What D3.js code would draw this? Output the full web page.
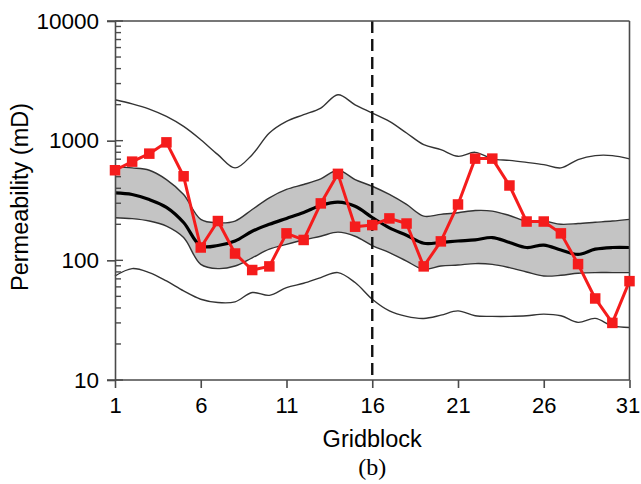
<!DOCTYPE html>
<html>
<head>
<meta charset="utf-8">
<script src="https://cdn.jsdelivr.net/npm/d3@7"></script>
<style>
  html, body { margin: 0; padding: 0; background: #fff; }
  svg { display: block; }
  .tick text { font-family: "Liberation Sans", Arial, Helvetica, sans-serif; }
</style>
</head>
<body>
<svg id="chart" width="641" height="484"></svg>
<script>
// Gridblock index along the section
const gridblocks = d3.range(1, 32);

// Observed permeability per gridblock (mD)
const observed = [566, 668, 779, 968, 504, 128, 213, 114, 83, 89, 168, 148, 299, 528, 191,
                  197, 224, 203, 89, 144, 293, 708, 708, 422, 211, 211, 168, 93, 48, 30, 67];

// Ensemble mean (mD)
const meanPerm = [366, 355, 322, 277, 207, 132, 133, 145, 175, 200, 224, 251, 287, 306, 283,
                  228, 187, 162, 139, 141, 145, 148, 155, 141, 128, 134, 122, 112, 124, 128, 128];

// Shaded band: upper and lower bounds (mD)
const bandUpper = [604, 592, 566, 473, 355, 220, 206, 213, 266, 333, 391, 430, 480, 566, 473,
                   416, 355, 293, 234, 242, 250, 261, 258, 237, 213, 213, 200, 203, 208, 213, 220];
const bandLower = [227, 223, 213, 193, 155, 92.6, 85.3, 89.6, 105, 124, 136, 148, 159, 172, 159,
                   133, 116, 98.6, 84.1, 89.6, 91.4, 93.9, 92.6, 86.9, 79.9, 74, 75, 78, 79, 79, 79];

// Outer envelope: maximum and minimum (mD)
const envMax = [2198, 2032, 1837, 1594, 1315, 1019, 764, 592, 764, 1159, 1449, 1648, 1873, 2417, 1995,
                1702, 1449, 1159, 926, 841, 740, 799, 704, 685, 659, 631, 592, 695, 750, 750, 704];
const envMin = [74, 85.3, 79, 67.2, 55.5, 47.3, 44.4, 45, 53.8, 51, 59.2, 64.3, 71.8, 79, 65.2,
                47.3, 37.8, 34, 32.7, 34.8, 37.8, 34.4, 34, 34, 34.4, 35.5, 34.4, 30.3, 32.7, 28.3, 27.5];

// Axis ticks and labels
const xTicks = [1, 6, 11, 16, 21, 26, 31];
const yTicks = [10, 100, 1000, 10000];
const dividerAt = 16;
const xLabel = "Gridblock";
const yLabel = "Permeability (mD)";
const panelLabel = "(b)";

const svg = d3.select("#chart");
const plotLeft = 115, plotRight = 629.5, plotTop = 21, plotBottom = 380;

const x = d3.scaleLinear().domain([1, 31]).range([plotLeft, plotRight]);
const y = d3.scaleLog().domain([10, 10000]).range([plotBottom, plotTop]);

const rows = gridblocks.map((g, i) => ({
  g, obs: observed[i], mean: meanPerm[i], hi: bandUpper[i], lo: bandLower[i],
  max: envMax[i], min: envMin[i]
}));

const curve = d3.curveCatmullRom.alpha(0.5);
const axisColor = "#4a4a4a";
const sans = "Liberation Sans, Arial, Helvetica, sans-serif";

// shaded band
svg.append("path")
  .datum(rows)
  .attr("fill", "#c4c4c4")
  .attr("d", d3.area().curve(curve).x(d => x(d.g)).y0(d => y(d.lo)).y1(d => y(d.hi)));

// thin lines: band edges and outer envelope
const seriesLine = key => d3.line().curve(curve).x(d => x(d.g)).y(d => y(d[key]));
["hi", "lo", "max", "min"].forEach(k => {
  svg.append("path")
    .datum(rows)
    .attr("fill", "none")
    .attr("stroke", "#333")
    .attr("stroke-width", 1.4)
    .attr("d", seriesLine(k));
});

// ensemble mean
svg.append("path")
  .datum(rows)
  .attr("fill", "none")
  .attr("stroke", "#000")
  .attr("stroke-width", 3.2)
  .attr("d", seriesLine("mean"));

// vertical dashed divider
svg.append("line")
  .attr("x1", x(dividerAt)).attr("x2", x(dividerAt))
  .attr("y1", y(10000)).attr("y2", y(10))
  .attr("stroke", "#111")
  .attr("stroke-width", 2.4)
  .attr("stroke-dasharray", "12,6");

// frame: top and right edges
svg.append("line")
  .attr("x1", x(1) - 8).attr("x2", x(31))
  .attr("y1", y(10000)).attr("y2", y(10000))
  .attr("stroke", axisColor).attr("stroke-width", 1.6);
svg.append("line")
  .attr("x1", x(31)).attr("x2", x(31))
  .attr("y1", y(10000)).attr("y2", y(10))
  .attr("stroke", axisColor).attr("stroke-width", 1.6);

// x axis
const xAxis = svg.append("g")
  .attr("transform", `translate(0,${plotBottom})`)
  .call(d3.axisBottom(x).tickValues(xTicks).tickSize(8).tickSizeOuter(0).tickPadding(9).tickFormat(d3.format("d")));
xAxis.select(".domain").attr("stroke", axisColor).attr("stroke-width", 1.6)
  .attr("d", `M${x(1) - 8},0H${x(31)}`);
xAxis.selectAll(".tick line").attr("stroke", axisColor).attr("stroke-width", 1.6);
xAxis.selectAll(".tick text").attr("font-size", 22).attr("fill", "#000");
// keep the last label inside the page edge
xAxis.selectAll(".tick text").filter(d => d === 31).attr("dx", -2);

// y axis
const yAxis = svg.append("g")
  .attr("transform", `translate(${plotLeft},0)`)
  .call(d3.axisLeft(y).tickValues(yTicks).tickSize(8).tickSizeOuter(0).tickPadding(8).tickFormat(d3.format("d")));
yAxis.select(".domain").attr("stroke", axisColor).attr("stroke-width", 1.6);
yAxis.selectAll(".tick line").attr("stroke", axisColor).attr("stroke-width", 1.6);
yAxis.selectAll(".tick text").attr("font-size", 22.5).attr("fill", "#000");

// minor ticks on the inside of the y axis
const minor = [];
[10, 100, 1000].forEach(dec => { for (let m = 2; m <= 9; m++) minor.push(dec * m); });
svg.append("g").selectAll("line")
  .data(minor.concat(yTicks))
  .join("line")
  .attr("x1", plotLeft).attr("x2", d => plotLeft + (yTicks.includes(d) ? 8 : 6))
  .attr("y1", d => y(d)).attr("y2", d => y(d))
  .attr("stroke", axisColor).attr("stroke-width", 1.4);

// observed series
const red = "#f51c1c";
svg.append("path")
  .datum(rows)
  .attr("fill", "none")
  .attr("stroke", red)
  .attr("stroke-width", 3)
  .attr("stroke-linejoin", "round")
  .attr("d", d3.line().x(d => x(d.g)).y(d => y(d.obs)));
const sq = 10.5;
svg.append("g").selectAll("rect")
  .data(rows)
  .join("rect")
  .attr("x", d => x(d.g) - sq / 2)
  .attr("y", d => y(d.obs) - sq / 2)
  .attr("width", sq).attr("height", sq)
  .attr("fill", red);

// axis titles
svg.append("text")
  .attr("x", (plotLeft + plotRight) / 2).attr("y", 447)
  .attr("text-anchor", "middle")
  .attr("font-family", sans)
  .attr("font-size", 23.5)
  .text(xLabel);
svg.append("text")
  .attr("transform", `translate(28,197) rotate(-90)`)
  .attr("text-anchor", "middle")
  .attr("font-family", sans)
  .attr("font-size", 23.5)
  .text(yLabel);
svg.append("text")
  .attr("x", (plotLeft + plotRight) / 2).attr("y", 475)
  .attr("text-anchor", "middle")
  .attr("font-family", "Liberation Serif, Times New Roman, serif")
  .attr("font-size", 24)
  .text(panelLabel);
</script>
</body>
</html>
